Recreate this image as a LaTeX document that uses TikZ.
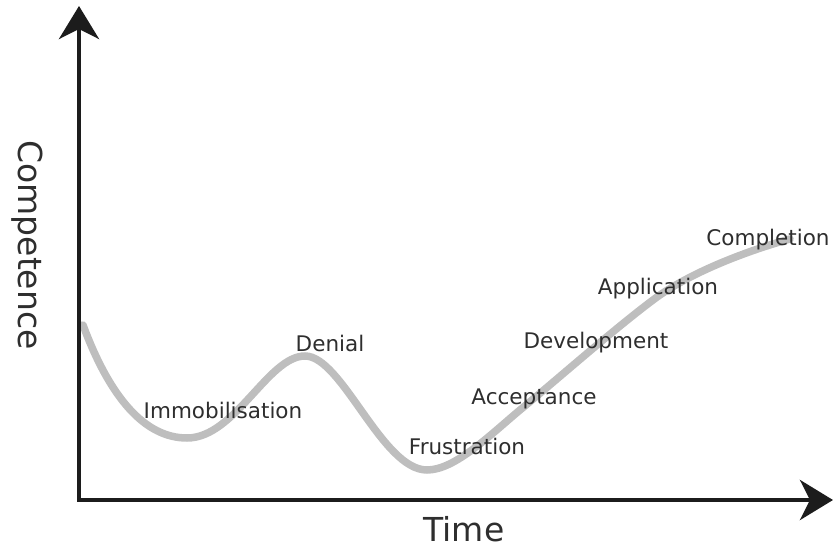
\documentclass[tikz,border=0pt]{standalone}
\usepackage{fontspec}
\setmainfont{DejaVu Sans}
\usetikzlibrary{arrows.meta}
\definecolor{curvegray}{HTML}{BEBEBE}
\definecolor{inkdark}{HTML}{1C1C1C}
\definecolor{labeltext}{HTML}{2E2E2E}
\tikzset{
  axis/.style={line width=4.5pt, draw=inkdark, line join=miter,
    {Stealth[length=33pt,width=40pt,inset=10pt]}-{Stealth[length=33pt,width=40pt,inset=10pt]}},
  phase/.style={text=labeltext, font=\fontsize{21.5}{24}\selectfont, inner sep=0pt},
  axislabel/.style={text=labeltext, font=\fontsize{33}{36}\selectfont, inner sep=0pt},
  curve/.style={draw=curvegray, line width=7.5pt, line cap=round}
}
\begin{document}
\begin{tikzpicture}[x=1pt,y=-1pt]
\useasboundingbox (0,0) rectangle (833,548);

% axes
\coordinate (O) at (79,500);
\coordinate (ytip) at (79,6);
\coordinate (xtip) at (833,500);

% competence curve
\draw[curve] (83,325)
  .. controls (110,398) and (145,438) .. (187,438)
  .. controls (235,438) and (268,356) .. (305,356)
  .. controls (342,356) and (382,470) .. (427,470)
  .. controls (455,470) and (490,435) .. (520,410)
  .. controls (560,377) and (613,330) .. (653,300)
  .. controls (690,272) and (750,250) .. (790,239);

\draw[axis] (ytip) -- (O) -- (xtip);

% phase labels
\node[phase] (immob) at (223,410) {Immobilisation};
\node[phase] (denial) at (330,343) {Denial};
\node[phase] (frust) at (467,446) {Frustration};
\node[phase] (accept) at (534,399) {Acceptance};
\node[phase] (devel) at (596,343) {Development};
\node[phase] (appl) at (658,289) {Application};
\node[phase] (compl) at (768,240) {Completion};

% axis titles
\node[axislabel] (timelbl) at (464,529) {Time};
\node[axislabel, rotate=-90] (complbl) at (27,245) {Competence};
\end{tikzpicture}
\end{document}
